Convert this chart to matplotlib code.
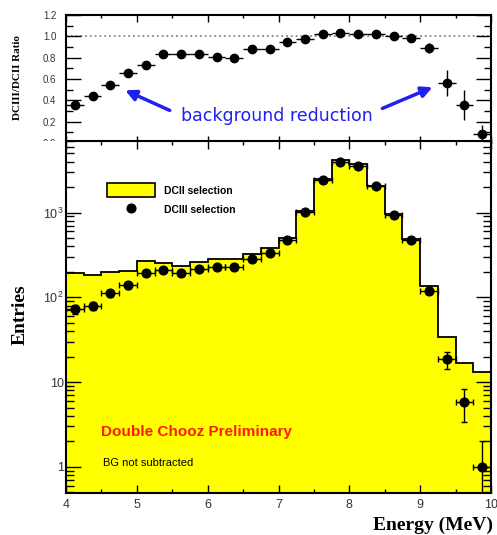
import numpy as np
import matplotlib
matplotlib.use('Agg')
import matplotlib.pyplot as plt
from matplotlib.patches import Patch, Rectangle
from matplotlib.lines import Line2D
from matplotlib.ticker import MultipleLocator, LogLocator, FuncFormatter, NullFormatter

# energy bins (MeV)
edges = [4.0, 4.25, 4.5, 4.75, 5.0, 5.25, 5.5, 5.75, 6.0, 6.25, 6.5, 6.75, 7.0,
         7.25, 7.5, 7.75, 8.0, 8.25, 8.5, 8.75, 9.0, 9.25, 9.5, 9.75, 10.0]
centers = [4.125, 4.375, 4.625, 4.875, 5.125, 5.375, 5.625, 5.875, 6.125, 6.375,
           6.625, 6.875, 7.125, 7.375, 7.625, 7.875, 8.125, 8.375, 8.625, 8.875,
           9.125, 9.375, 9.625, 9.875]
half_width = 0.125

# DCII selection (histogram)
dc2 = [196, 185, 200, 205, 266, 252, 234, 263, 282, 285, 323, 377, 495, 1050,
       2520, 4220, 3750, 2040, 960, 485, 135, 34, 17, 13]
# DCIII selection (points)
dc3 = [72, 80, 111, 138, 192, 208, 192, 218, 225, 225, 282, 330, 475, 1020,
       2400, 4000, 3560, 2040, 940, 475, 120, 18.5, 5.8, 1.0]
dc3_err = [8.5, 8.9, 10.5, 11.7, 13.9, 14.4, 13.9, 14.8, 15, 15, 16.8, 18.2,
           21.8, 32, 49, 63, 60, 45, 30.7, 21.8, 11, 4.3, 2.4, 0.99]

# DCIII/DCII ratio
ratio = [0.36, 0.445, 0.54, 0.66, 0.73, 0.83, 0.83, 0.83, 0.81, 0.80, 0.88, 0.885,
         0.95, 0.975, 1.02, 1.03, 1.02, 1.02, 1.007, 0.985, 0.89, 0.56, 0.355, 0.085]
ratio_err = [0.03, 0.03, 0.03, 0.03, 0.03, 0.03, 0.03, 0.03, 0.03, 0.03, 0.03, 0.03,
             0.02, 0.02, 0.02, 0.02, 0.02, 0.02, 0.02, 0.03, 0.05, 0.12, 0.14, 0.08]

sans = 'Liberation Sans'
serif = 'Liberation Serif'
tick_col = '#333333'

fig = plt.figure(figsize=(4.97, 5.35), dpi=100)

# ---- ratio panel (its lower edge sits under the spectrum panel) ----
axr = fig.add_axes([66 / 497, 1 - 143 / 535, 425 / 497, 128 / 535])
axr.axhline(1.0, color='#888888', ls=':', lw=1.3, zorder=1)
axr.errorbar(centers, ratio, xerr=half_width, yerr=ratio_err, fmt='o', color='black',
             ms=6, elinewidth=1, capsize=0, zorder=3)
axr.set_xlim(4, 10)
axr.set_ylim(0, 1.2)
axr.xaxis.set_major_locator(MultipleLocator(1))
axr.xaxis.set_minor_locator(MultipleLocator(0.5))
axr.yaxis.set_major_locator(MultipleLocator(0.2))
axr.yaxis.set_minor_locator(MultipleLocator(0.1))
axr.yaxis.set_major_formatter(FuncFormatter(lambda v, p: '%.1f' % v))
axr.tick_params(which='both', direction='in', top=True, right=True, labelbottom=False,
                labelsize=7, labelcolor=tick_col, width=1)
axr.tick_params(axis='y', which='major', length=11, pad=7)
axr.tick_params(axis='y', which='minor', length=5)
axr.tick_params(axis='x', which='major', length=5)
axr.tick_params(axis='x', which='minor', length=2.5)
for s in axr.spines.values():
    s.set_linewidth(1.5)
for t in axr.get_yticklabels():
    t.set_family(sans)

axr.text(6.98, 0.257, 'background reduction', color='#2020f0', fontsize=12.5,
         family='DejaVu Sans', ha='center', va='center')
axr.annotate('', xy=(4.80, 0.505), xytext=(5.50, 0.295),
             arrowprops=dict(arrowstyle='-|>', color='#2020f0', lw=2.5, mutation_scale=16))
axr.annotate('', xy=(9.21, 0.533), xytext=(8.43, 0.314),
             arrowprops=dict(arrowstyle='-|>', color='#2020f0', lw=2.5, mutation_scale=16))

fig.text(18 / 497, 1 - 78 / 535, 'DCIII/DCII Ratio', rotation=90, ha='center', va='center',
         fontweight='bold', family=serif, fontsize=8)

# the spectrum pad hides the lower part of the "0.0" label
fig.patches.append(Rectangle((36 / 497, 1 - 160 / 535), 30 / 497, 19 / 535,
                             transform=fig.transFigure, facecolor='white',
                             edgecolor='none', zorder=1))

# ---- spectrum panel ----
ax = fig.add_axes([66 / 497, 1 - 493 / 535, 425 / 497, 352 / 535])
ax.set_zorder(2)
ax.set_facecolor('white')
ax.set_yscale('log')
ax.stairs(dc2, edges, baseline=1e-3, fill=True, color='#ffff00', zorder=1)
ax.stairs(dc2, edges, baseline=None, color='black', lw=1.3, zorder=2)
ax.errorbar(centers, dc3, xerr=half_width, yerr=dc3_err, fmt='o', color='black',
            ms=6.3, elinewidth=1, capsize=2, zorder=3)
ax.set_xlim(4, 10)
ax.set_ylim(0.49, 7000)
ax.xaxis.set_major_locator(MultipleLocator(1))
ax.xaxis.set_minor_locator(MultipleLocator(0.5))
ax.yaxis.set_major_locator(LogLocator(base=10, numticks=10))
ax.yaxis.set_minor_locator(LogLocator(base=10, subs=np.arange(2, 10), numticks=20))
ax.yaxis.set_minor_formatter(NullFormatter())
labels = {1: '1', 10: '10', 100: r'$\mathregular{10^{2}}$', 1000: r'$\mathregular{10^{3}}$'}
ax.yaxis.set_major_formatter(FuncFormatter(lambda v, p: labels.get(int(round(v)), '')))
ax.tick_params(which='both', direction='in', top=True, right=True,
               labelsize=9, labelcolor=tick_col, width=1)
ax.tick_params(axis='y', which='major', length=11, pad=1.5)
ax.tick_params(axis='y', which='minor', length=5.5)
ax.tick_params(axis='x', which='major', length=6, pad=4)
ax.tick_params(axis='x', which='minor', length=3)
for s in ax.spines.values():
    s.set_linewidth(1.5)
for t in ax.get_xticklabels() + ax.get_yticklabels():
    t.set_family(sans)

handles = [Patch(facecolor='#ffff00', edgecolor='black', lw=1.2),
           Line2D([], [], ls='none', marker='o', color='black', ms=6.3)]
ax.legend(handles, ['DCII selection', 'DCIII selection'], loc='upper left',
          bbox_to_anchor=(0.096, 0.88), frameon=False, borderpad=0, borderaxespad=0,
          handlelength=4.6, handleheight=1.7, handletextpad=0.9, labelspacing=0.55,
          prop=dict(family=sans, weight='bold', size=7.5))

ax.text(0.082, 0.174, 'Double Chooz Preliminary', transform=ax.transAxes, color='#ff1a00',
        fontsize=11, fontweight='bold', family=sans, va='center')
ax.text(0.087, 0.086, 'BG not subtracted', transform=ax.transAxes, color='black',
        fontsize=8, family=sans, va='center')

fig.text(20 / 497, 1 - 315 / 535, 'Entries', rotation=90, ha='center', va='center',
         fontweight='bold', family=serif, fontsize=14)
fig.text(493 / 497, 1 - 529.6 / 535, 'Energy (MeV)', ha='right', va='baseline',
         fontweight='bold', family=serif, fontsize=14)

fig.savefig('out.png', dpi=100)
